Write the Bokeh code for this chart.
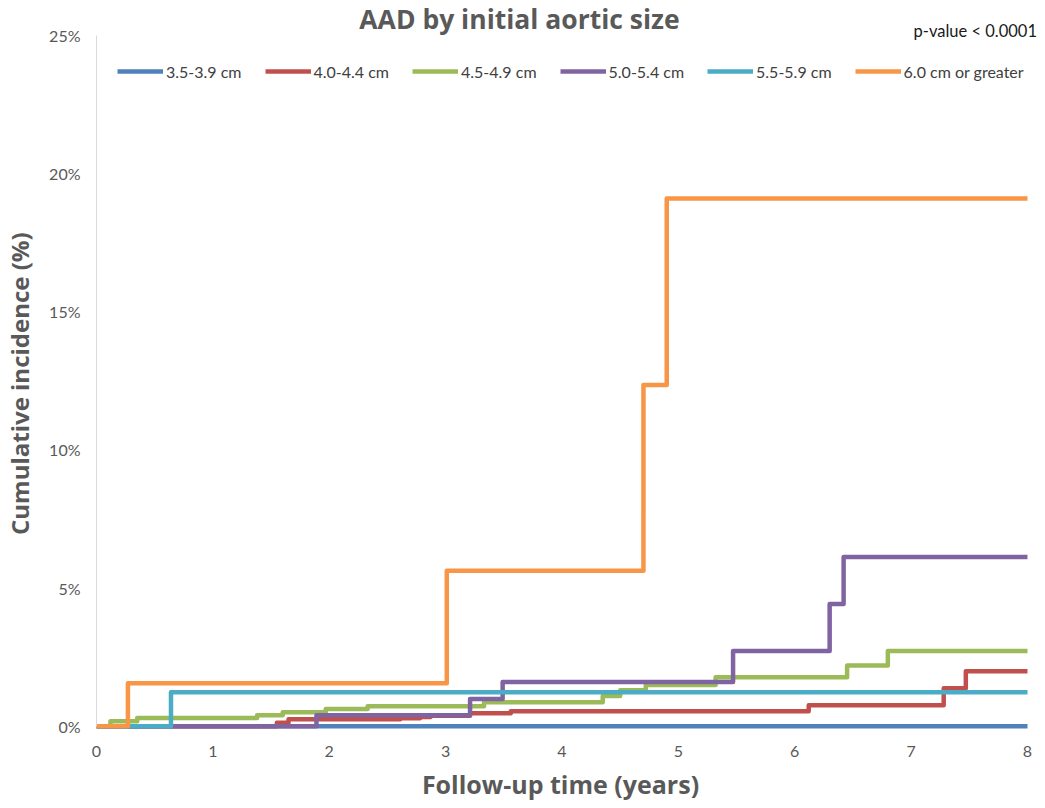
from bokeh.plotting import figure
from bokeh.models import Range1d, Legend, LegendItem, Label, FixedTicker, PrintfTickFormatter
from bokeh.embed import file_html
from bokeh.resources import INLINE

# ---- data ----
series_names = ["3.5-3.9 cm", "4.0-4.4 cm", "4.5-4.9 cm", "5.0-5.4 cm", "5.5-5.9 cm", "6.0 cm or greater"]
series_colors = ["#4F81BD", "#C0504D", "#9BBB59", "#8064A2", "#4BACC6", "#F79646"]

t_35 = [0, 8]
v_35 = [0, 0]

t_40 = [0, 1.55, 1.65, 2.61, 2.78, 2.87, 3.21, 3.56, 6.12, 7.28, 7.47, 8]
v_40 = [0, 0.12, 0.25, 0.29, 0.33, 0.38, 0.47, 0.54, 0.76, 1.37, 1.99, 1.99]

t_45 = [0, 0.12, 0.35, 1.38, 1.60, 1.97, 2.33, 3.33, 4.35, 4.50, 4.72, 5.32, 6.45, 6.80, 8]
v_45 = [0, 0.18, 0.30, 0.40, 0.50, 0.62, 0.72, 0.87, 1.09, 1.30, 1.49, 1.77, 2.20, 2.72, 2.72]

t_50 = [0, 1.89, 3.21, 3.49, 5.47, 6.30, 6.42, 8]
v_50 = [0, 0.40, 0.98, 1.60, 2.72, 4.42, 6.12, 6.12]

t_55 = [0, 0.64, 8]
v_55 = [0, 1.23, 1.23]

t_60 = [0, 0.27, 3.01, 4.70, 4.90, 8]
v_60 = [0, 1.55, 5.63, 12.35, 19.10, 19.10]

y_ticks = [0, 5, 10, 15, 20, 25]
x_ticks = [0, 1, 2, 3, 4, 5, 6, 7, 8]

series_t = [t_35, t_40, t_45, t_50, t_55, t_60]
series_v = [v_35, v_40, v_45, v_50, v_55, v_60]

FONT = "Lato"
TFONT = "Open Sans"
GRAY = "#595959"

p = figure(frame_width=941, frame_height=729, output_backend="svg", toolbar_location=None,
           x_range=Range1d(0, 8.086), y_range=Range1d(-0.12, 26.266),
           min_border_left=0, min_border_right=0, min_border_top=0, min_border_bottom=0)
p.outline_line_color = None
p.xgrid.visible = False
p.ygrid.visible = False

renderers = []
for t, v, c in zip(series_t, series_v, series_colors):
    r = p.step(t, v, mode="after", line_color=c, line_width=4.5, line_join="round")
    renderers.append(r)

legend = Legend(items=[LegendItem(label=n, renderers=[r]) for n, r in zip(series_names, renderers)],
                orientation="horizontal", location=(21, 648), margin=0, padding=0,
                glyph_width=46, glyph_height=20, label_standoff=3, spacing=23,
                label_text_font=FONT, label_text_font_size="16px", label_text_color="#404040",
                border_line_color=None, background_fill_alpha=0)
p.add_layout(legend, "center")

# axes
p.yaxis.ticker = FixedTicker(ticks=y_ticks)
p.yaxis.formatter = PrintfTickFormatter(format="%d%%")
p.xaxis.ticker = FixedTicker(ticks=x_ticks)
p.yaxis.bounds = (0, 25)
p.xaxis.bounds = (0, 8)
for ax in (p.xaxis[0], p.yaxis[0]):
    ax.major_tick_line_color = None
    ax.minor_tick_line_color = None
    ax.major_label_text_font = FONT
    ax.major_label_text_font_size = "16px"
    ax.major_label_text_color = GRAY
    ax.axis_label_text_font = TFONT
    ax.axis_label_text_font_style = "bold"
    ax.axis_label_text_color = GRAY
p.yaxis.axis_line_color = "#d9d9d9"
p.xaxis.axis_line_color = None
p.yaxis.major_label_standoff = 10
p.xaxis.major_label_standoff = 10
# trailing no-break spaces centre the visible words on the 0-25 % / 0-8 span rather than the whole frame
p.yaxis.axis_label = "Cumulative incidence (%)" + "\u00a0" * 6
p.yaxis.axis_label_text_font_size = "24px"
p.yaxis.axis_label_standoff = 10
p.xaxis.axis_label = "Follow-up time (years)" + "\u00a0" * 2
p.xaxis.axis_label_text_font_size = "25px"
p.xaxis.axis_label_standoff = 7

# chart title and p-value note (screen offsets from the plot frame)
p.add_layout(Label(x=423, y=711, x_units="screen", y_units="screen", text="AAD by initial aortic size",
                   text_font=TFONT, text_font_size="26.5px", text_font_style="bold", text_color=GRAY,
                   text_align="center", text_baseline="alphabetic"))
p.add_layout(Label(x=817, y=699, x_units="screen", y_units="screen", text="p-value < 0.0001",
                   text_font=FONT, text_font_size="16.5px", text_color="#1a1a1a",
                   text_align="left", text_baseline="alphabetic"))

open("out.html", "w").write(file_html(p, INLINE))
